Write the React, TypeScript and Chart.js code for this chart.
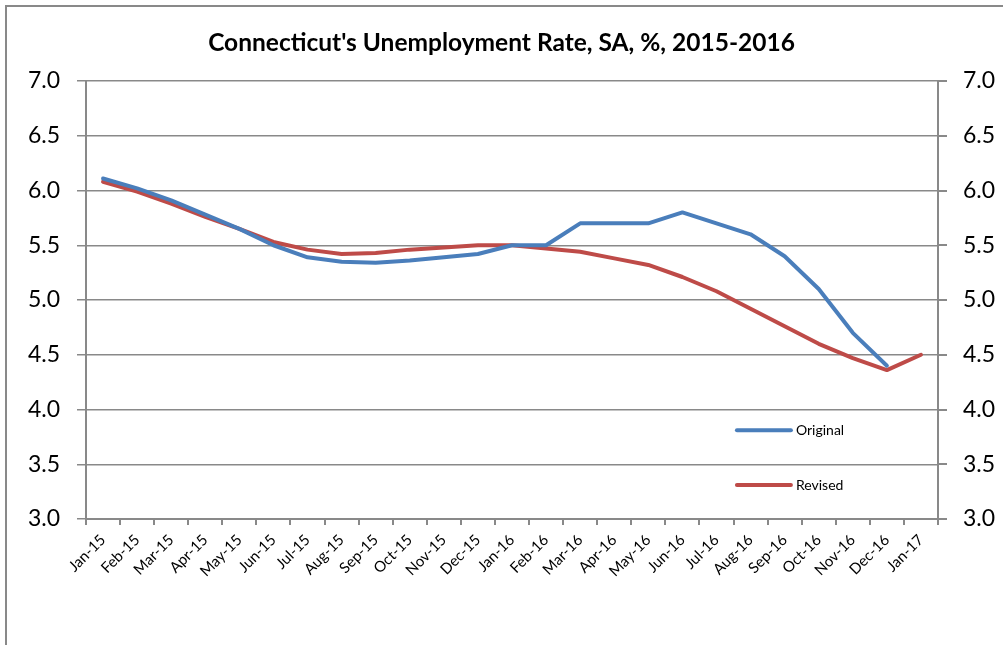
import React, { useEffect, useRef } from "react";
import { Chart, registerables } from "chart.js";

Chart.register(...registerables);

const categories = [
  "Jan-15", "Feb-15", "Mar-15", "Apr-15", "May-15", "Jun-15", "Jul-15", "Aug-15",
  "Sep-15", "Oct-15", "Nov-15", "Dec-15", "Jan-16", "Feb-16", "Mar-16", "Apr-16",
  "May-16", "Jun-16", "Jul-16", "Aug-16", "Sep-16", "Oct-16", "Nov-16", "Dec-16", "Jan-17",
];

const originalValues: (number | null)[] = [
  6.11, 6.02, 5.91, 5.78, 5.65, 5.5, 5.39, 5.35, 5.34, 5.36, 5.39, 5.42,
  5.5, 5.5, 5.7, 5.7, 5.7, 5.8, 5.7, 5.6, 5.4, 5.1, 4.7, 4.4, null,
];

const revisedValues: number[] = [
  6.08, 5.99, 5.88, 5.76, 5.65, 5.53, 5.46, 5.42, 5.43, 5.46, 5.48, 5.5,
  5.5, 5.47, 5.44, 5.38, 5.32, 5.21, 5.08, 4.92, 4.76, 4.6, 4.47, 4.36, 4.5,
];

const yTicks = [3.0, 3.5, 4.0, 4.5, 5.0, 5.5, 6.0, 6.5, 7.0];

const titleText = "Connecticut's Unemployment Rate, SA, %, 2015-2016";
const seriesNames = ["Original", "Revised"];
const seriesColors = ["#4A7EBB", "#BE4B48"];

const FONT = "Lato, 'Open Sans', sans-serif";
const GRID = "#898989";

const framePlugin = {
  id: "frame",
  beforeDraw(chart: any) {
    const ctx = chart.ctx;
    ctx.save();
    ctx.fillStyle = "#ffffff";
    ctx.fillRect(0, 0, chart.width, chart.height);
    ctx.strokeStyle = GRID;
    ctx.lineWidth = 2;
    ctx.beginPath();
    ctx.moveTo(6, chart.height);
    ctx.lineTo(6, 6);
    ctx.lineTo(chart.width, 6);
    ctx.stroke();
    ctx.restore();
  },
};

const legendPlugin = {
  id: "insideLegend",
  afterDatasetsDraw(chart: any) {
    const ctx = chart.ctx;
    const yScale = chart.scales.y;
    const xScale = chart.scales.x;
    const rows = [yScale.getPixelForValue(3.81), yScale.getPixelForValue(3.31)];
    const x0 = xScale.getPixelForValue(18.6);
    ctx.save();
    seriesNames.forEach((name, i) => {
      const y = rows[i];
      ctx.strokeStyle = seriesColors[i];
      ctx.lineWidth = 4;
      ctx.lineCap = "round";
      ctx.beginPath();
      ctx.moveTo(x0, y);
      ctx.lineTo(x0 + 54, y);
      ctx.stroke();
      ctx.fillStyle = "#000000";
      ctx.font = `14px ${FONT}`;
      ctx.textAlign = "left";
      ctx.textBaseline = "middle";
      ctx.fillText(name, x0 + 59, y);
    });
    ctx.restore();
  },
};

export default function App() {
  const canvasRef = useRef<HTMLCanvasElement | null>(null);

  useEffect(() => {
    if (!canvasRef.current) return;
    const chart = new Chart(canvasRef.current, {
      type: "line",
      data: {
        labels: categories,
        datasets: [
          {
            label: seriesNames[0],
            data: originalValues,
            borderColor: seriesColors[0],
            backgroundColor: seriesColors[0],
            borderWidth: 4,
            pointRadius: 0,
            tension: 0,
            borderJoinStyle: "round",
            borderCapStyle: "round",
            yAxisID: "y",
          },
          {
            label: seriesNames[1],
            data: revisedValues,
            borderColor: seriesColors[1],
            backgroundColor: seriesColors[1],
            borderWidth: 4,
            pointRadius: 0,
            tension: 0,
            borderJoinStyle: "round",
            borderCapStyle: "round",
            yAxisID: "y",
          },
        ],
      },
      options: {
        responsive: false,
        animation: false,
        layout: { padding: { left: 0, right: 0, top: 0, bottom: 0 } },
        plugins: {
          legend: { display: false },
          tooltip: { enabled: false },
          title: {
            display: true,
            text: titleText,
            color: "#000000",
            font: { family: FONT, size: 24.5, weight: "bold" },
            padding: { top: 28, bottom: 23.6 },
          },
        },
        scales: {
          x: {
            type: "category",
            offset: true,
            grid: {
              offset: true,
              drawOnChartArea: false,
              drawTicks: true,
              tickLength: 6,
              color: GRID,
              lineWidth: 2,
            },
            border: { display: true, color: GRID, width: 2 },
            ticks: {
              color: "#000000",
              font: { family: FONT, size: 15 },
              minRotation: 45,
              maxRotation: 45,
              autoSkip: false,
              padding: 6,
            },
            afterFit: (scale: any) => {
              scale.height = 126;
            },
          },
          y: {
            position: "left",
            min: 3,
            max: 7,
            afterBuildTicks: (scale: any) => {
              scale.ticks = yTicks.map((v) => ({ value: v }));
            },
            grid: {
              color: GRID,
              lineWidth: 1.5,
              tickLength: 9,
              drawTicks: true,
            },
            border: { display: true, color: GRID, width: 2 },
            ticks: {
              color: "#000000",
              font: { family: FONT, size: 23 },
              padding: 17,
              callback: (v: any) => Number(v).toFixed(1),
            },
            afterFit: (scale: any) => {
              scale.width = 86;
            },
          },
          y2: {
            position: "right",
            min: 3,
            max: 7,
            afterBuildTicks: (scale: any) => {
              scale.ticks = yTicks.map((v) => ({ value: v }));
            },
            grid: {
              drawOnChartArea: false,
              color: GRID,
              lineWidth: 2,
              tickLength: 9,
              drawTicks: true,
            },
            border: { display: true, color: GRID, width: 2 },
            ticks: {
              color: "#000000",
              font: { family: FONT, size: 23 },
              padding: 16,
              callback: (v: any) => Number(v).toFixed(1),
            },
            afterFit: (scale: any) => {
              scale.width = 65;
            },
          },
        },
      },
      plugins: [framePlugin, legendPlugin],
    });
    return () => chart.destroy();
  }, []);

  return (
    <div style={{ position: "absolute", left: 0, top: 0, width: 1003, height: 645 }}>
      <canvas ref={canvasRef} width={1003} height={645} style={{ display: "block" }} />
    </div>
  );
}
